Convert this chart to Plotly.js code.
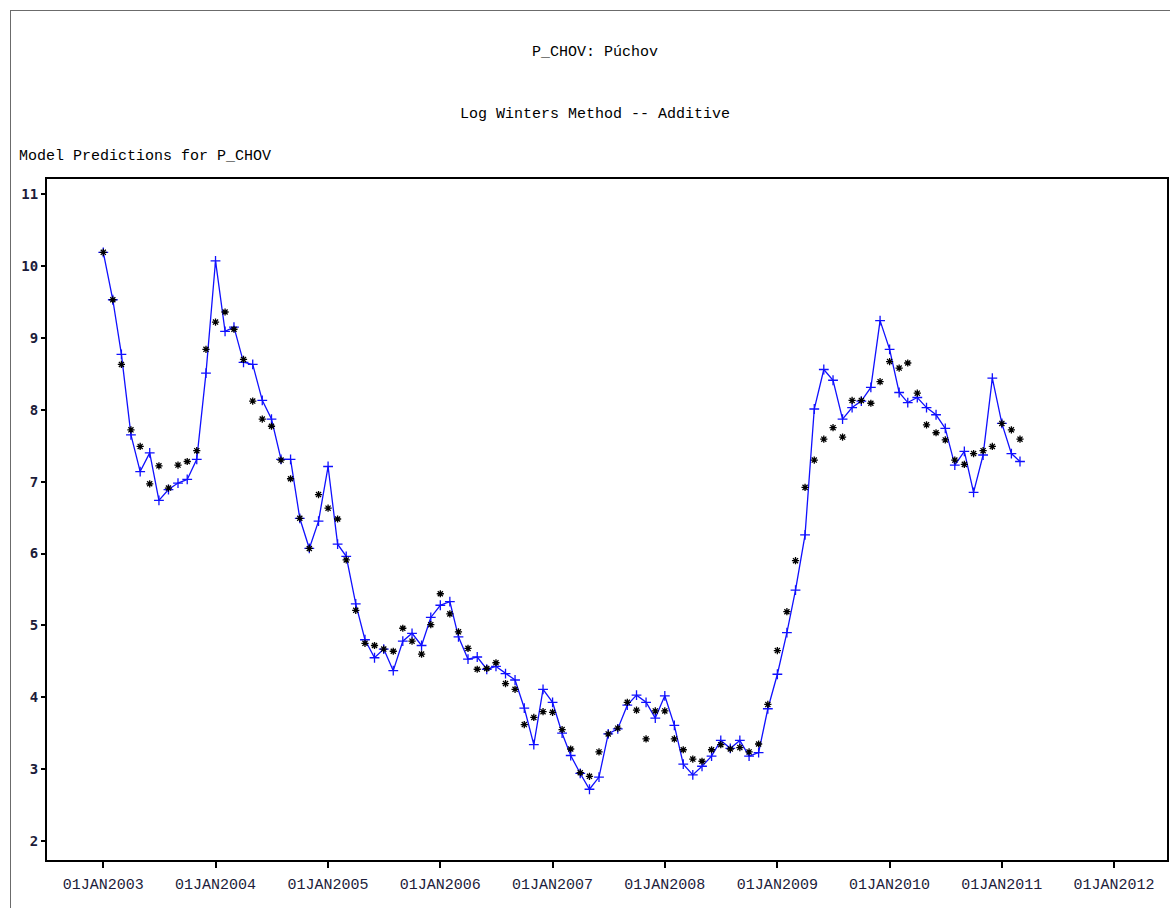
<!DOCTYPE html>
<html>
<head>
<meta charset="utf-8">
<script src="https://cdn.plot.ly/plotly-3.0.1.min.js"></script>
<style>
  html, body { margin: 0; padding: 0; background: #fff; }
  #frame { position: absolute; left: 10px; top: 10px; width: 1160px; height: 898px;
           border-left: 1px solid #6b6b6b; border-top: 1px solid #6b6b6b; box-sizing: border-box; }
  #chart { position: absolute; left: 0; top: 0; width: 1170px; height: 908px; }
</style>
</head>
<body>
<div id="frame"></div>
<div id="chart"></div>
<script>
// Monthly series, starting January 2003
const startYear = 2003;
const startMonth = 1;

// Observed values (blue line with + markers)
const actual = [
  10.19, 9.53, 8.77, 7.65, 7.14, 7.40, 6.74, 6.89, 6.98, 7.03, 7.31, 8.51,
  10.07, 9.09, 9.15, 8.66, 8.63, 8.13, 7.87, 7.31, 7.31, 6.49, 6.07, 6.45,
  7.21, 6.13, 5.96, 5.30, 4.80, 4.55, 4.67, 4.37, 4.78, 4.89, 4.72, 5.11,
  5.28, 5.33, 4.84, 4.53, 4.56, 4.39, 4.43, 4.33, 4.24, 3.85, 3.34, 4.11,
  3.93, 3.50, 3.19, 2.94, 2.72, 2.89, 3.49, 3.56, 3.89, 4.03, 3.93, 3.71,
  4.02, 3.61, 3.07, 2.92, 3.04, 3.18, 3.40, 3.29, 3.40, 3.18, 3.23, 3.84,
  4.32, 4.90, 5.49, 6.26, 8.01, 8.56, 8.41, 7.87, 8.03, 8.12, 8.31, 9.24,
  8.84, 8.24, 8.10, 8.17, 8.03, 7.93, 7.74, 7.23, 7.42, 6.85, 7.37, 8.44,
  7.81, 7.39, 7.28
];

// One-step-ahead model predictions (black * markers)
const predicted = [
  10.19, 9.53, 8.63, 7.72, 7.49, 6.97, 7.22, 6.91, 7.23, 7.28, 7.43, 8.84,
  9.22, 9.36, 9.12, 8.70, 8.12, 7.87, 7.77, 7.30, 7.04, 6.49, 6.07, 6.82,
  6.63, 6.48, 5.91, 5.21, 4.75, 4.72, 4.67, 4.64, 4.96, 4.78, 4.60, 5.01,
  5.44, 5.16, 4.91, 4.68, 4.39, 4.40, 4.48, 4.19, 4.11, 3.62, 3.72, 3.80,
  3.79, 3.55, 3.28, 2.95, 2.90, 3.24, 3.49, 3.57, 3.93, 3.82, 3.42, 3.81,
  3.81, 3.42, 3.27, 3.14, 3.11, 3.27, 3.34, 3.28, 3.30, 3.24, 3.35, 3.90,
  4.65, 5.19, 5.90, 6.92, 7.30, 7.59, 7.75, 7.62, 8.13, 8.13, 8.09, 8.39,
  8.67, 8.58, 8.65, 8.23, 7.79, 7.68, 7.58, 7.30, 7.24, 7.39, 7.43, 7.49,
  7.81, 7.72, 7.59
];

// X-axis tick years and labels
const tickYears = [2003, 2004, 2005, 2006, 2007, 2008, 2009, 2010, 2011, 2012];
const tickLabels = tickYears.map(y => '01JAN' + y);
const yTicks = [2, 3, 4, 5, 6, 7, 8, 9, 10, 11];

function monthDate(i) {
  const m0 = startMonth - 1 + i;
  const y = startYear + Math.floor(m0 / 12);
  const m = (m0 % 12) + 1;
  return y + '-' + String(m).padStart(2, '0') + '-01';
}
const datesA = actual.map((_, i) => monthDate(i));
const datesP = predicted.map((_, i) => monthDate(i));

const mono = '"Liberation Mono", "DejaVu Sans Mono", monospace';

const traces = [
  {
    x: datesA, y: actual, type: 'scatter', mode: 'lines+markers',
    line: { color: '#1010ff', width: 1.3 },
    marker: { symbol: 'cross-thin-open', size: 7, color: '#1010ff', line: { color: '#1010ff', width: 1.3 } },
    hoverinfo: 'x+y', showlegend: false
  },
  {
    x: datesP, y: predicted, type: 'scatter', mode: 'markers',
    marker: { symbol: 'asterisk-open', size: 6, color: '#000', line: { color: '#000', width: 1.3 } },
    hoverinfo: 'x+y', showlegend: false
  }
];

const layout = {
  width: 1170, height: 908,
  paper_bgcolor: 'rgba(0,0,0,0)', plot_bgcolor: '#fff',
  margin: { l: 47, r: 3, t: 179, b: 48 },
  font: { family: mono, size: 15, color: '#000' },
  title: {
    text: 'P_CHOV: Púchov',
    font: { family: mono, size: 15, color: '#000' },
    xref: 'container', x: 595 / 1170, xanchor: 'center',
    yref: 'container', y: 1 - 51 / 908, yanchor: 'middle'
  },
  xaxis: {
    type: 'date',
    range: ['2002-07-02', '2012-06-21'],
    tickvals: tickYears.map(y => y + '-01-01'),
    ticktext: tickLabels,
    ticks: 'outside', ticklen: 6, tickwidth: 2, tickcolor: '#000',
    ticklabelstandoff: 3,
    tickfont: { family: mono, size: 15, color: '#1c1c3a' },
    showgrid: false, zeroline: false,
    showline: true, linecolor: '#000', linewidth: 2, mirror: true
  },
  yaxis: {
    range: [1.736, 11.21],
    tickvals: yTicks,
    ticks: 'outside', ticklen: 4, tickwidth: 2, tickcolor: '#000',
    tickfont: { family: '"DejaVu Sans Mono", monospace', size: 14, color: '#1c1c3a', weight: 'bold' },
    showgrid: false, zeroline: false,
    showline: true, linecolor: '#000', linewidth: 2, mirror: true
  },
  annotations: [
    {
      text: 'Log Winters Method -- Additive', showarrow: false,
      xref: 'paper', x: (595 - 47) / 1120, xanchor: 'center',
      yref: 'paper', y: (860 - 115) / 681, yanchor: 'middle',
      font: { family: mono, size: 15, color: '#000' }
    },
    {
      text: 'Model Predictions for P_CHOV', showarrow: false,
      xref: 'paper', x: (17 - 47) / 1120, xanchor: 'left',
      yref: 'paper', y: (860 - 157) / 681, yanchor: 'middle',
      font: { family: mono, size: 15, color: '#000' }
    }
  ]
};

Plotly.newPlot('chart', traces, layout, { displayModeBar: false, staticPlot: true });
</script>
</body>
</html>
